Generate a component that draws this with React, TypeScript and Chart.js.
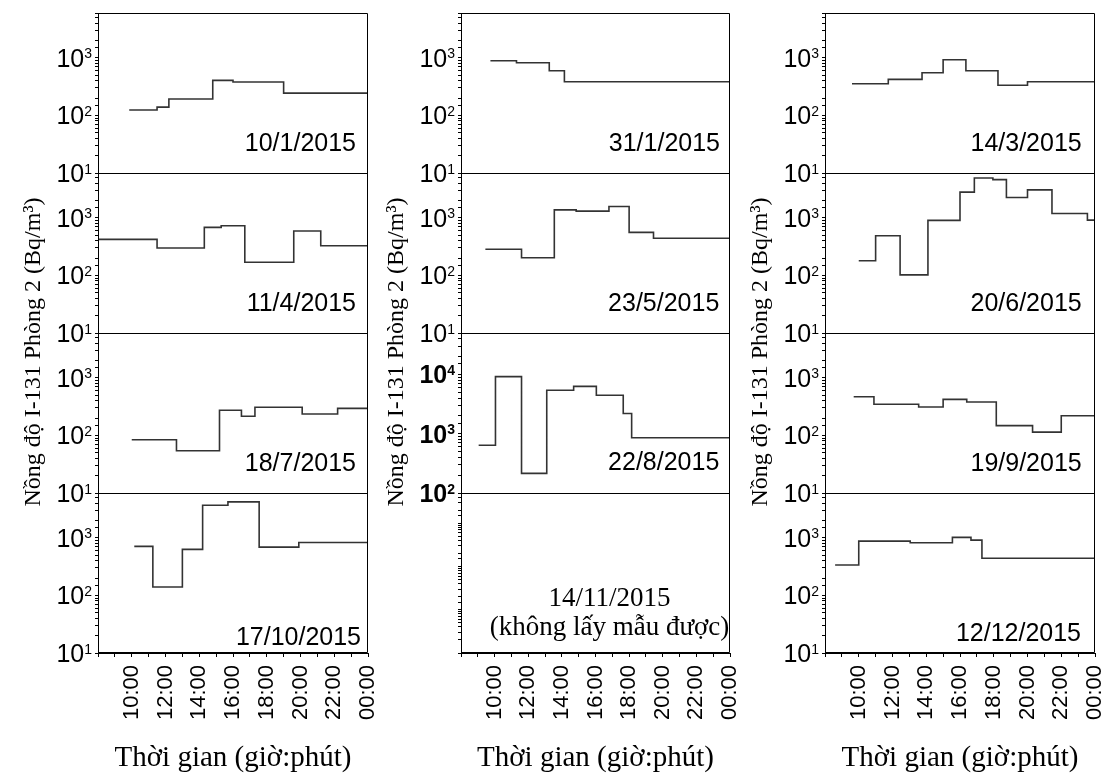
import React, { useEffect, useRef } from 'react';
import { Chart, registerables } from 'chart.js';

Chart.register(...registerables);

// ---------- DATA ----------
// x: hour of day (24 = 00:00 next day), y: I-131 concentration (Bq/m3)
const t_10_1_2015 = [9.85, 11.5, 12.2, 14.8, 16.0, 19.0, 24];
const c_10_1_2015 = [124, 139, 193, 406, 380, 244, 244];

const t_11_4_2015 = [8.0, 11.5, 14.3, 15.3, 16.7, 19.6, 21.2, 24];
const c_11_4_2015 = [423, 299, 682, 728, 169, 589, 328, 328];

const t_18_7_2015 = [10.0, 12.65, 15.2, 16.5, 17.3, 20.1, 22.2, 24];
const c_18_7_2015 = [84, 54, 273, 215, 308, 236, 295, 295];

const t_17_10_2015 = [10.15, 11.25, 13.0, 14.2, 15.7, 17.55, 19.9, 24];
const c_17_10_2015 = [710, 140, 630, 3680, 4200, 690, 830, 830];

const t_31_1_2015 = [9.75, 11.3, 13.25, 14.15, 24];
const c_31_1_2015 = [887, 820, 596, 384, 384];

const t_23_5_2015 = [9.45, 11.6, 13.55, 14.85, 16.8, 18.0, 19.45, 24];
const c_23_5_2015 = [284, 203, 1376, 1305, 1574, 559, 441, 441];

const t_22_8_2015 = [9.05, 10.05, 11.6, 13.1, 14.7, 16.05, 17.65, 18.15, 24];
const c_22_8_2015 = [640, 9200, 214, 5400, 6300, 4460, 2190, 855, 855];

const t_14_3_2015 = [9.6, 11.75, 13.75, 15.0, 16.35, 18.25, 20.0, 24];
const c_14_3_2015 = [355, 423, 551, 925, 596, 333, 384, 384];

const t_20_6_2015 = [10.0, 11.0, 12.45, 14.1, 16.0, 16.85, 17.95, 18.75, 20.0, 21.45, 23.55, 24];
const c_20_6_2015 = [180, 489, 102, 902, 2790, 4920, 4610, 2255, 3055, 1190, 912, 912];

const t_19_9_2015 = [9.7, 10.9, 13.55, 15.0, 16.4, 18.15, 20.3, 22.0, 24];
const c_19_9_2015 = [469, 347, 311, 423, 380, 148, 114, 220, 220];

const t_12_12_2015 = [8.6, 10.0, 13.05, 15.55, 16.65, 17.3, 24];
const c_12_12_2015 = [337, 877, 820, 1016, 912, 441, 441];

// tick labels
const xTickHours = [10, 12, 14, 16, 18, 20, 22, 24];
const xTickLabels = ['10:00', '12:00', '14:00', '16:00', '18:00', '20:00', '22:00', '00:00'];
const yTickValues = [10, 100, 1000, 10000];
const yTickBase = '10';
const yTickExponents = ['1', '2', '3', '4'];

const xTitle = 'Thời gian (giờ:phút)';
const yTitle = 'Nồng độ I-131 Phòng 2 (Bq/m³)';
const noSampleDate = '14/11/2015';
const noSampleText = '(không lấy mẫu được)';

// panels (top to bottom) per column
type Panel = { label: string; t: number[]; c: number[]; kind: 'normal' | 'high' | 'empty' };
const col1: Panel[] = [
  { label: '10/1/2015', t: t_10_1_2015, c: c_10_1_2015, kind: 'normal' },
  { label: '11/4/2015', t: t_11_4_2015, c: c_11_4_2015, kind: 'normal' },
  { label: '18/7/2015', t: t_18_7_2015, c: c_18_7_2015, kind: 'normal' },
  { label: '17/10/2015', t: t_17_10_2015, c: c_17_10_2015, kind: 'normal' },
];
const col2: Panel[] = [
  { label: '31/1/2015', t: t_31_1_2015, c: c_31_1_2015, kind: 'normal' },
  { label: '23/5/2015', t: t_23_5_2015, c: c_23_5_2015, kind: 'normal' },
  { label: '22/8/2015', t: t_22_8_2015, c: c_22_8_2015, kind: 'high' },
  { label: '', t: [], c: [], kind: 'empty' },
];
const col3: Panel[] = [
  { label: '14/3/2015', t: t_14_3_2015, c: c_14_3_2015, kind: 'normal' },
  { label: '20/6/2015', t: t_20_6_2015, c: c_20_6_2015, kind: 'normal' },
  { label: '19/9/2015', t: t_19_9_2015, c: c_19_9_2015, kind: 'normal' },
  { label: '12/12/2015', t: t_12_12_2015, c: c_12_12_2015, kind: 'normal' },
];
const columns = [col1, col2, col3];

// ---------- LAYOUT / STYLE ----------
const W = 1104;
const H = 776;
const Y_AXIS_W = 98;
const colLeft = [98, 461, 825];
const colRight = [368, 730, 1095];
const PLOT_TOP = 13;
const PLOT_BOTTOM = 653;
// date label offsets [dx from right edge, dy from panel bottom]
const labelOffsets = [
  [[-12, -21.6], [-12, -21.6], [-12, -21.6], [-7, -8.3]],
  [[-10, -21.6], [-10.7, -21.6], [-10.7, -22.6], [0, 0]],
  [[-13.3, -21.6], [-13.3, -21.6], [-13.3, -21.6], [-14, -11.6]],
];
const SANS = "'Liberation Sans', Arial, Helvetica, sans-serif";
const SERIF = "'Liberation Serif', 'Times New Roman', Times, serif";

const ranges = {
  normal: { min: 10, max: 6000 },
  high: { min: 100, max: 50000 },
  empty: { min: 1, max: 5000 },
};

function xLabel(v: number): string {
  const i = xTickHours.indexOf(v);
  return i >= 0 ? xTickLabels[i] : '';
}

const decoPlugin = {
  id: 'deco',
  afterDraw(chart: any, _args: any, opts: any) {
    const { ctx, chartArea: a } = chart;
    const col = opts.col as number;
    const panels = columns[col];
    ctx.save();
    ctx.strokeStyle = '#000';
    ctx.lineWidth = 1;
    const L = Math.round(a.left) + 0.5;
    const R = Math.round(a.right) - 0.5;
    const T = Math.round(a.top) + 0.5;
    const B = Math.round(a.bottom) - 0.5;
    ctx.beginPath();
    ctx.moveTo(L, T); ctx.lineTo(R, T); ctx.lineTo(R, B); ctx.lineTo(L, B); ctx.closePath();
    ctx.stroke();
    panels.forEach((p, i) => {
      const s = chart.scales['p' + i];
      if (!s) return;
      if (i < panels.length - 1) {
        const y = Math.round(s.bottom) + 0.5;
        ctx.beginPath(); ctx.moveTo(L, y); ctx.lineTo(R, y); ctx.stroke();
      }
      ctx.fillStyle = '#000';
      if (p.kind === 'empty') {
        ctx.font = `27px ${SERIF}`;
        ctx.textAlign = 'center';
        ctx.textBaseline = 'alphabetic';
        const cx = (a.left + a.right) / 2 + 14;
        ctx.fillText(noSampleDate, cx, s.bottom - 46.6);
        ctx.fillText(noSampleText, cx, s.bottom - 18.3);
      } else {
        const [dx, dy] = labelOffsets[col][i];
        ctx.font = `25px ${SANS}`;
        ctx.textAlign = 'right';
        ctx.textBaseline = 'alphabetic';
        ctx.fillText(p.label, a.right + dx, s.bottom + dy);
        // y tick labels 10^n, placed through the panel's own scale
        const weight = p.kind === 'high' ? 'bold ' : '';
        yTickValues.forEach((v, k) => {
          if (v < s.min - 1e-9 || v > s.max + 1e-9) return;
          const y = s.getPixelForValue(v);
          const xr = s.right - 6;
          ctx.font = `${weight}14px ${SANS}`;
          ctx.textAlign = 'left';
          const ew = ctx.measureText(yTickExponents[k]).width;
          ctx.fillText(yTickExponents[k], xr - ew, y + 0.5);
          ctx.font = `${weight}25px ${SANS}`;
          ctx.textAlign = 'right';
          ctx.fillText(yTickBase, xr - ew, y + 9);
        });
      }
    });
    // y title
    ctx.translate(a.left - 64, 352);
    ctx.rotate(-Math.PI / 2);
    ctx.font = `24px ${SERIF}`;
    ctx.textAlign = 'center';
    ctx.textBaseline = 'middle';
    ctx.fillStyle = '#000';
    ctx.fillText(yTitle, 0, 0);
    ctx.restore();
  },
};

function buildConfig(col: number): any {
  const panels = columns[col];
  const scales: any = {
    x: {
      type: 'linear',
      min: 8,
      max: 24,
      position: 'bottom',
      border: { display: true, color: '#000', width: 1 },
      grid: { drawOnChartArea: false, drawTicks: true, tickLength: 4, color: '#000' },
      ticks: {
        stepSize: 1,
        autoSkip: false,
        minRotation: 90,
        maxRotation: 90,
        padding: 8,
        color: '#000',
        font: { family: SANS, size: 22 },
        callback: (v: number) => xLabel(v),
      },
      title: {
        display: true,
        text: xTitle,
        color: '#000',
        font: { family: SERIF, size: 29 },
        padding: { top: 0, bottom: 0 },
      },
      afterFit: (s: any) => {
        s.height = H - PLOT_BOTTOM;
        s.paddingLeft = 0;
        s.paddingRight = 0;
      },
    },
  };
  // stacked left scales are laid out last-defined-on-top, so define bottom panel first
  for (let i = panels.length - 1; i >= 0; i--) {
    const p = panels[i];
    const r = ranges[p.kind];
    scales['p' + i] = {
      type: 'logarithmic',
      position: 'left',
      stack: 'col',
      stackWeight: 1,
      min: r.min,
      max: r.max,
      border: { display: true, color: '#000', width: 1 },
      grid: { drawOnChartArea: false, drawTicks: true, tickLength: 3, color: '#000' },
      ticks: {
        autoSkip: false,
        padding: 3,
        color: '#000',
        font: { family: SANS, size: 24 },
        callback: () => '',
      },
      afterFit: (s: any) => {
        s.width = Y_AXIS_W;
        s.paddingTop = 0;
        s.paddingBottom = 0;
      },
    };
  }
  const datasets = panels
    .map((p, i) => ({ p, i }))
    .filter(({ p }) => p.kind !== 'empty')
    .map(({ p, i }) => ({
      label: p.label,
      data: p.t.map((t, k) => ({ x: t, y: p.c[k] })),
      xAxisID: 'x',
      yAxisID: 'p' + i,
      stepped: true,
      borderColor: '#333',
      borderWidth: 1.6,
      pointRadius: 0,
      fill: false,
    }));
  return {
    type: 'line',
    data: { datasets },
    options: {
      animation: false,
      responsive: false,
      devicePixelRatio: 1,
      layout: {
        padding: {
          left: colLeft[col] - Y_AXIS_W,
          right: W - colRight[col],
          top: PLOT_TOP,
          bottom: 0,
        },
      },
      plugins: {
        legend: { display: false },
        tooltip: { enabled: false },
        title: { display: false },
        deco: { col },
      },
      scales,
    },
    plugins: [decoPlugin],
  };
}

function ColumnChart({ col }: { col: number }) {
  const ref = useRef<HTMLCanvasElement>(null);
  useEffect(() => {
    if (!ref.current) return;
    const chart = new Chart(ref.current, buildConfig(col));
    return () => chart.destroy();
  }, [col]);
  return (
    <canvas
      ref={ref}
      width={W}
      height={H}
      style={{ position: 'absolute', left: 0, top: 0, width: W, height: H }}
    />
  );
}

export default function App() {
  return (
    <div style={{ position: 'absolute', left: 0, top: 0, width: W, height: H, background: '#fff' }}>
      {[0, 1, 2].map((c) => (
        <ColumnChart key={c} col={c} />
      ))}
    </div>
  );
}
